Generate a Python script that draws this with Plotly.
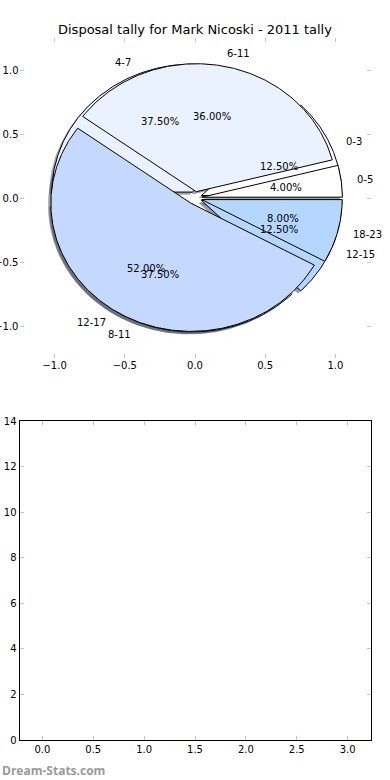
import numpy as np
import plotly.graph_objects as go

# ---------------- data ----------------
chart_title = "Disposal tally for Mark Nicoski - 2011 tally"
labels_a = ["0-3", "4-7", "8-11", "12-15"]
counts_a = [1, 3, 3, 1]
labels_b = ["0-5", "6-11", "12-17", "18-23"]
counts_b = [1, 9, 13, 2]
wedge_colors = ["#FFFFFF", "#EAF1FF", "#C5D9FF", "#B4D6FF"]
pie_ticks = [-1.0, -0.5, 0.0, 0.5, 1.0]
bar_x_ticks = [0.0, 0.5, 1.0, 1.5, 2.0, 2.5, 3.0]
bar_y_ticks = [0, 2, 4, 6, 8, 10, 12, 14]

EXPLODE = 0.05
SHADOW = 0.02
FONT = "DejaVu Sans"

fig = go.Figure()


def pie_geometry(counts):
    total = float(sum(counts))
    out = []
    start = 0.0
    for c in counts:
        frac = c / total
        t1, t2 = start, start + 360.0 * frac
        mid = np.deg2rad((t1 + t2) / 2)
        cx, cy = EXPLODE * np.cos(mid), EXPLODE * np.sin(mid)
        th = np.deg2rad(np.linspace(t1, t2, max(4, int((t2 - t1) * 2))))
        xs = np.concatenate([[cx], cx + np.cos(th), [cx]])
        ys = np.concatenate([[cy], cy + np.sin(th), [cy]])
        out.append(dict(frac=frac, mid=mid, cx=cx, cy=cy, xs=xs, ys=ys))
        start = t2
    return out


geo_a = pie_geometry(counts_a)
geo_b = pie_geometry(counts_b)


def dark(hexcol):
    r, g, b = int(hexcol[1:3], 16), int(hexcol[3:5], 16), int(hexcol[5:7], 16)
    return "rgba(%d,%d,%d,0.5)" % (r * 0.3, g * 0.3, b * 0.3)


# shadows first (below all wedges)
for geo in (geo_a, geo_b):
    for w, col in zip(geo, wedge_colors):
        fig.add_trace(go.Scatter(
            x=w["xs"] - SHADOW, y=w["ys"] - SHADOW, mode="lines", fill="toself",
            fillcolor=dark(col), line=dict(width=0, color="rgba(0,0,0,0)"),
            hoverinfo="skip", showlegend=False, xaxis="x", yaxis="y"))

# wedges
for geo, labs in ((geo_a, labels_a), (geo_b, labels_b)):
    for w, col, lab in zip(geo, wedge_colors, labs):
        fig.add_trace(go.Scatter(
            x=w["xs"], y=w["ys"], mode="lines", fill="toself", fillcolor=col,
            line=dict(width=1, color="black"), name=lab,
            hoverinfo="name", showlegend=False, xaxis="x", yaxis="y"))

annotations = []
for geo, labs in ((geo_a, labels_a), (geo_b, labels_b)):
    for w, lab in zip(geo, labs):
        lx = w["cx"] + 1.1 * np.cos(w["mid"])
        ly = w["cy"] + 1.1 * np.sin(w["mid"])
        annotations.append(dict(
            x=lx, y=ly, xref="x", yref="y", text=lab, showarrow=False,
            xanchor="left" if lx > 0 else "right", yanchor="middle",
            font=dict(family=FONT, size=10, color="black")))
        px = w["cx"] + 0.6 * np.cos(w["mid"])
        py = w["cy"] + 0.6 * np.sin(w["mid"])
        annotations.append(dict(
            x=px, y=py, xref="x", yref="y", text="%.2f%%" % (100 * w["frac"]),
            showarrow=False, xanchor="center", yanchor="middle",
            font=dict(family=FONT, size=10, color="black")))

annotations.append(dict(
    x=0.5, y=1 - 30 / 780, xref="paper", yref="paper", text=chart_title,
    showarrow=False, xanchor="center", yanchor="middle",
    font=dict(family=FONT, size=13, color="black")))
annotations.append(dict(
    x=0.0, y=10 / 780, xref="paper", yref="paper", text="<b>Dream-Stats.com</b>",
    showarrow=False, xanchor="left", yanchor="middle",
    font=dict(family="Open Sans", size=12, color="#9a9a9a")))

tick_gray = "#c4c4c4"
tick_font = dict(family=FONT, size=10, color="black")

fig.update_layout(
    width=390, height=780,
    margin=dict(l=0, r=0, t=0, b=0),
    paper_bgcolor="white", plot_bgcolor="white",
    showlegend=False,
    annotations=annotations,
    xaxis=dict(domain=[19.5 / 390, 370.5 / 390], range=[-1.25, 1.25],
               tickvals=pie_ticks, tickformat=".1f", ticks="inside", ticklen=4,
               tickcolor=tick_gray, tickwidth=1, showline=False, mirror="ticks",
               showgrid=False, zeroline=False, tickfont=tick_font,
               automargin=False, anchor="y", fixedrange=True),
    yaxis=dict(domain=[1 - 358 / 780, 1 - 38 / 780], range=[-1.25, 1.25],
               tickvals=pie_ticks, tickformat=".1f", ticks="inside", ticklen=4,
               tickcolor=tick_gray, tickwidth=1, showline=False, mirror="ticks",
               showgrid=False, zeroline=False, tickfont=tick_font,
               automargin=False, anchor="x", fixedrange=True),
    xaxis2=dict(domain=[19.5 / 390, 370.5 / 390], range=[-0.225, 3.225],
                tickvals=bar_x_ticks, tickformat=".1f", ticks="inside", ticklen=4,
                tickcolor=tick_gray, tickwidth=1, showline=True, linecolor="black",
                linewidth=1, mirror="ticks", showgrid=False, zeroline=False,
                tickfont=tick_font, automargin=False, anchor="y2", fixedrange=True),
    yaxis2=dict(domain=[1 - 740 / 780, 1 - 421 / 780], range=[0, 14],
                tickvals=bar_y_ticks, ticks="inside", ticklen=4,
                tickcolor=tick_gray, tickwidth=1, showline=True, linecolor="black",
                linewidth=1, mirror="ticks", showgrid=False, zeroline=False,
                tickfont=tick_font, automargin=False, anchor="x2", fixedrange=True),
)

# empty lower panel (no tallies plotted)
fig.add_trace(go.Bar(x=[], y=[], xaxis="x2", yaxis="y2", showlegend=False))

fig.write_html("out.html", config={"displayModeBar": False},
               post_script="document.body.style.margin='0px';"
                           "document.body.style.overflow='hidden';")
